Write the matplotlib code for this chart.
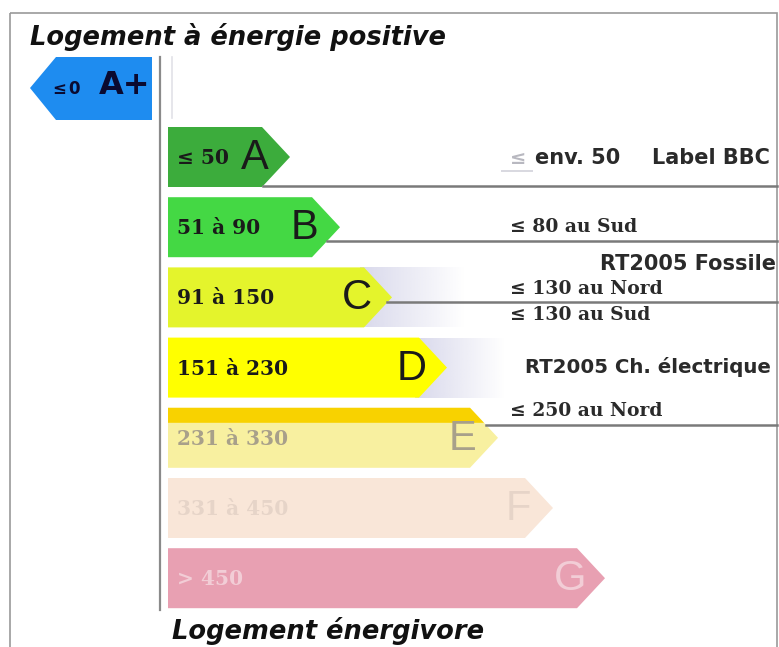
#!/usr/bin/env python3
"""Energy label chart: Logement à énergie positive -> Logement énergivore."""

import matplotlib
matplotlib.use('Agg')
import matplotlib.pyplot as plt
import numpy as np
from matplotlib.patches import Polygon, Rectangle

# Classes, their ranges (kWh/m2.an) and bar lengths (px from the left axis)
letters = ['A', 'B', 'C', 'D', 'E', 'F', 'G']
ranges = ['≤ 50', '51 à 90', '91 à 150', '151 à 230', '231 à 330', '331 à 450', '> 450']
bar_lengths = [122, 172, 224, 279, 330, 385, 437]
bar_colors = ['#3cac3c', '#44d844', '#e4f42c', '#ffff00', '#f8f0a0', '#f9e6d8', '#e8a0b2']
text_colors = ['#1a1a1a', '#1a1a1a', '#1a1a1a', '#1a1a1a', '#a8a08a', '#e6d4c8', '#f2cdd6']

# Reference lines (which class gets a horizontal line, at what height in the bar)
line_classes = ['A', 'B', 'C', 'E']
line_offsets = [29, 14, 5, -13]

# Annotations on the right
notes = [
    ('env. 50', 535, 158, 'sans'),
    ('Label BBC', 652, 158, 'sans'),
    ('≤ 80 au Sud', 510, 227, 'serif'),
    ('RT2005 Fossile', 600, 264, 'sans'),
    ('≤ 130 au Nord', 510, 289, 'serif'),
    ('≤ 130 au Sud', 510, 315, 'serif'),
    ('RT2005 Ch. électrique', 525, 367, 'sans'),
    ('≤ 250 au Nord', 510, 411, 'serif'),
]

W, H = 779, 647
x0 = 168
bar_h = 60
step = 70.2
top0 = 127
tip = 28

fig = plt.figure(figsize=(W / 100, H / 100), dpi=100)
ax = fig.add_axes([0, 0, 1, 1])
ax.set_xlim(0, W)
ax.set_ylim(H, 0)
ax.axis('off')

# frame
ax.add_patch(Rectangle((10, 13), 767, 650, fill=False, ec='#9a9a9a', lw=1.2))
ax.text(30, 37, 'Logement à énergie positive', fontsize=18.5, fontweight='bold',
        fontstyle='italic', va='center', ha='left', color='#111')
ax.text(172, 631, 'Logement énergivore', fontsize=18.5, fontweight='bold',
        fontstyle='italic', va='center', ha='left', color='#111')

# A+ arrow pointing left
ax.add_patch(Polygon([(30, 88), (56, 57), (152, 57), (152, 120), (56, 120)],
                     closed=True, fc='#1e8cf0', ec='none'))
ax.text(52, 89, '≤', fontsize=12, fontweight='bold', va='center', color='#0a0a30')
ax.text(68, 89, '0', fontsize=12, fontweight='bold', va='center', color='#0a0a30')
ax.text(99, 86, 'A+', fontsize=23, fontweight='bold', va='center', color='#0a0a30')

# axis line
ax.plot([160, 160], [57, 610], color='#8a8a8a', lw=1.6)
ax.plot([172, 172], [57, 118], color='#e2e2e8', lw=1.2)

# soft shadows behind C and D
grad = np.linspace(0.75, 0.0, 64)
for idx, (sx, sw) in zip([2, 3], [(360, 105), (415, 90)]):
    top = top0 + idx * step
    img = np.zeros((1, 64, 4))
    img[..., 0] = 0.80
    img[..., 1] = 0.80
    img[..., 2] = 0.90
    img[..., 3] = grad
    ax.imshow(img, extent=(sx, sx + sw, top + bar_h, top), aspect='auto',
              interpolation='bilinear', zorder=1)

# bars
for i, (let, rng, ln, fc, tc) in enumerate(zip(letters, ranges, bar_lengths,
                                               bar_colors, text_colors)):
    top = top0 + i * step
    cy = top + bar_h / 2
    xe = x0 + ln
    poly = [(x0, top), (xe - tip, top), (xe, cy), (xe - tip, top + bar_h), (x0, top + bar_h)]
    ax.add_patch(Polygon(poly, closed=True, fc=fc, ec='none', zorder=2))
    if let == 'E':
        # darker stripe on top of E
        ax.add_patch(Polygon([(x0, top), (xe - tip, top), (xe - tip + 14, top + 15),
                              (x0, top + 15)], closed=True, fc='#f8d200', ec='none', zorder=3))
    ax.text(x0 + 9, cy + 1, rng, fontsize=14.5, fontweight='bold', family='DejaVu Serif',
            va='center', ha='left', color=tc, zorder=4)
    ax.text(xe - 35, cy + 1, let, fontsize=30, family='Liberation Sans',
            va='center', ha='center', color=tc, zorder=4)

# horizontal reference lines
for let, off in zip(line_classes, line_offsets):
    i = letters.index(let)
    top = top0 + i * step
    cy = top + bar_h / 2 + off
    xe = x0 + bar_lengths[i]
    frac = abs(off) / (bar_h / 2)
    xs = xe - tip * frac
    ax.plot([xs, W - 2], [cy, cy], color='#7a7a7a', lw=1.8, zorder=2)

# right annotations
ax.text(510, 158, '≤', fontsize=14, fontweight='bold', color='#b8b8c0',
        va='center', ha='left')
ax.plot([502, 532], [171, 171], color='#d8d8e0', lw=1.4)
for txt, tx, ty, fam in notes:
    family = 'DejaVu Serif' if fam == 'serif' else 'DejaVu Sans'
    size = 13.5 if fam == 'serif' else 15
    if len(txt) > 16:
        size = 14.2
    ax.text(tx, ty, txt, fontsize=size, fontweight='bold', family=family,
            color='#2a2a2a', va='center', ha='left', zorder=5)

fig.savefig('out.png', dpi=100)
plt.close(fig)
